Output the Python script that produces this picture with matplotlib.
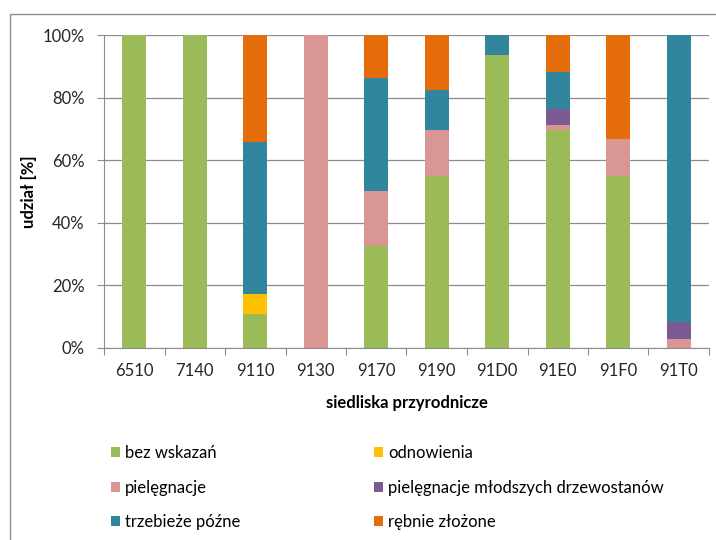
import numpy as np
import matplotlib
matplotlib.use("Agg")
import matplotlib.pyplot as plt
from matplotlib.patches import Rectangle

plt.rcParams['font.family'] = ['Lato', 'DejaVu Sans']

# ================= DATA =================

habitats = ["6510", "7140", "9110", "9130", "9170", "9190", "91D0", "91E0", "91F0", "91T0"]

series_names = [
    "bez wskazań",
    "odnowienia",
    "pielęgnacje",
    "pielęgnacje młodszych drzewostanów",
    "trzebieże późne",
    "rębnie złożone",
]

bez_wskazan = [100, 100, 10.8, 0, 32.5, 55.1, 93.6, 69.8, 54.9, 0]
odnowienia = [0, 0, 6.4, 0, 0, 0, 0, 0, 0, 0]
pielegnacje = [0, 0, 0, 100, 17.7, 14.5, 0, 1.3, 11.8, 2.9]
pielegnacje_mlodszych = [0, 0, 0, 0, 0, 0, 0, 5.2, 0, 5.3]
trzebieze_pozne = [0, 0, 48.6, 0, 36.2, 12.7, 6.4, 11.9, 0, 91.8]
rebnie_zlozone = [0, 0, 34.2, 0, 13.6, 17.7, 0, 11.8, 33.3, 0]

colors = ["#9BBB59", "#FFC000", "#D99694", "#795A93", "#31859C", "#E46C0A"]

# ================= PLOT =================

fig = plt.figure(figsize=(7.16, 5.4), dpi=100)
ax = fig.add_axes([104 / 716, 1 - 348 / 540, 605 / 716, 313 / 540])

# chart frame (Excel style)
fig.patches.append(Rectangle((10 / 716, -0.1), 1.2, 1 - 14 / 540 + 0.1,
                             transform=fig.transFigure, fill=False,
                             edgecolor="#8c8c8c", linewidth=1))

x = np.arange(len(habitats))
data = [bez_wskazan, odnowienia, pielegnacje, pielegnacje_mlodszych,
        trzebieze_pozne, rebnie_zlozone]

bottom = np.zeros(len(habitats))
handles = []
for values, name, col in zip(data, series_names, colors):
    bars = ax.bar(x, values, width=0.4, bottom=bottom, color=col, label=name)
    handles.append(bars)
    bottom += np.array(values)

ax.set_xlim(-0.5, len(habitats) - 0.5)
ax.set_ylim(0, 100)
ax.set_yticks([0, 20, 40, 60, 80, 100])
ax.set_yticklabels([f"{v}%" for v in range(0, 101, 20)])
ax.yaxis.grid(True, color="#8c8c8c", linewidth=0.9)
ax.set_axisbelow(True)

ax.set_xticks(np.arange(len(habitats) + 1) - 0.5)
ax.set_xticklabels([])
ax.set_xticks(x, minor=True)
ax.set_xticklabels(habitats, minor=True)
ax.tick_params(axis="x", which="major", length=5, color="#8c8c8c")
ax.tick_params(axis="x", which="minor", length=0, pad=11, labelsize=12, labelcolor="#262626")
ax.tick_params(axis="y", length=5, color="#8c8c8c", pad=9, labelsize=12, labelcolor="#262626")

for side in ["top", "right"]:
    ax.spines[side].set_visible(False)
for side in ["left", "bottom"]:
    ax.spines[side].set_color("#8c8c8c")

ax.set_ylabel("udział [%]", fontsize=12, fontweight="bold", labelpad=4)
ax.set_xlabel("siedliska przyrodnicze", fontsize=12, fontweight="bold", labelpad=11)

# legend in two columns placed like the original
leg_kw = dict(loc="upper left", frameon=False, fontsize=12, handlelength=0.55,
              handleheight=0.55, handletextpad=0.3, labelspacing=1.12,
              borderaxespad=0, borderpad=0)
fig.legend([handles[0], handles[2], handles[4]],
           [series_names[0], series_names[2], series_names[4]],
           bbox_to_anchor=(111 / 716, 1 - 445 / 540), **leg_kw)
fig.legend([handles[1], handles[3], handles[5]],
           [series_names[1], series_names[3], series_names[5]],
           bbox_to_anchor=(374 / 716, 1 - 445 / 540), **leg_kw)

fig.savefig("out.png", dpi=100)
